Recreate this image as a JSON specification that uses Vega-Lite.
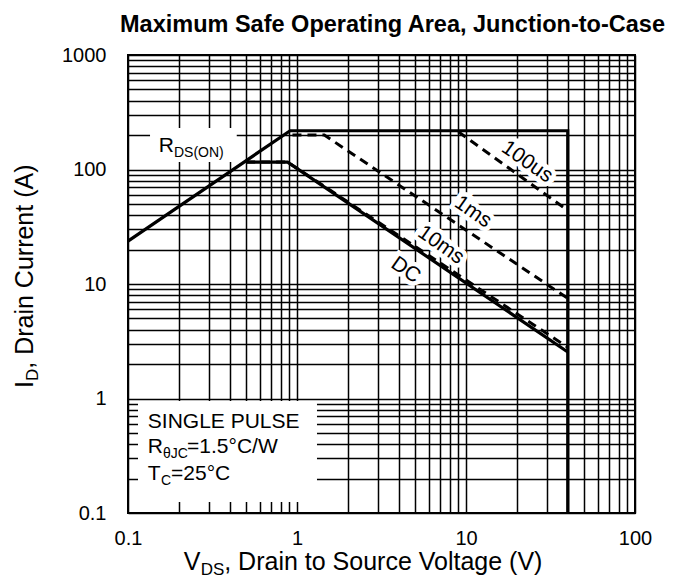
{
  "$schema": "https://vega.github.io/schema/vega-lite/v6.json",
  "width": 507,
  "height": 458,
  "autosize": "none",
  "padding": {"left": 128, "top": 55, "right": 40, "bottom": 71},
  "background": "white",
  "title": {
    "text": "Maximum Safe Operating Area, Junction-to-Case",
    "font": "Liberation Sans",
    "fontSize": 23.5,
    "fontWeight": "bold",
    "color": "black",
    "anchor": "middle",
    "dx": 11,
    "offset": 9
  },
  "config": {
    "view": {"stroke": "black", "strokeWidth": 2},
    "axis": {
      "labelFont": "Liberation Sans",
      "labelFontSize": 20,
      "labelColor": "black",
      "ticks": false,
      "tickSize": 0,
      "domain": false,
      "grid": true,
      "gridColor": "black",
      "gridOpacity": 1,
      "gridWidth": 1.5,
      "labelOverlap": false,
      "labelFlush": false,
      "title": null
    }
  },
  "datasets": {
    "curves": [
      {"series": "limit", "k": 1, "v": 0.1, "i": 23.7},
      {"series": "limit", "k": 2, "v": 0.91, "i": 218},
      {"series": "limit", "k": 3, "v": 40, "i": 218},
      {"series": "limit", "k": 4, "v": 40, "i": 0.1},
      {"series": "DC", "k": 1, "v": 0.5, "i": 116},
      {"series": "DC", "k": 2, "v": 0.88, "i": 116},
      {"series": "DC", "k": 3, "v": 40, "i": 2.55},
      {"series": "100us", "k": 1, "v": 9.0, "i": 214},
      {"series": "100us", "k": 2, "v": 40, "i": 44},
      {"series": "1ms", "k": 1, "v": 0.94, "i": 200},
      {"series": "1ms", "k": 2, "v": 1.45, "i": 200},
      {"series": "1ms", "k": 3, "v": 40, "i": 7.5},
      {"series": "10ms", "k": 1, "v": 0.5, "i": 116},
      {"series": "10ms", "k": 2, "v": 0.88, "i": 116},
      {"series": "10ms", "k": 3, "v": 40, "i": 2.8}
    ],
    "boxes": [
      {"v1": 0.135, "v2": 0.44, "i1": 230, "i2": 116},
      {"v1": 0.1146, "v2": 1.313, "i1": 0.951, "i2": 0.125}
    ],
    "curveLabels": [
      {"label": "100us", "v": 22.96, "i": 116.3},
      {"label": "1ms", "v": 11.0, "i": 42.5},
      {"label": "10ms", "v": 7.1, "i": 21.9},
      {"label": "DC", "v": 4.4, "i": 13.2}
    ],
    "noteMain": [
      {"text": "R", "v": 0.152, "i": 142},
      {"text": "SINGLE PULSE", "v": 0.131, "i": 0.552},
      {"text": "R", "v": 0.131, "i": 0.334},
      {"text": "=1.5°C/W", "v": 0.2235, "i": 0.334},
      {"text": "T", "v": 0.131, "i": 0.194},
      {"text": "=25°C", "v": 0.1797, "i": 0.194}
    ],
    "noteSub": [
      {"text": "DS(ON)", "v": 0.187, "i": 128.6},
      {"text": "θJC", "v": 0.161, "i": 0.302},
      {"text": "C", "v": 0.157, "i": 0.1756}
    ],
    "xTitleMain": [
      {"text": "V", "v": 0.214, "i": 0.0318},
      {"text": ", Drain to Source Voltage (V)", "v": 0.371, "i": 0.0318}
    ],
    "xTitleSub": [
      {"text": "DS", "v": 0.269, "i": 0.0287}
    ],
    "yTitleMain": [
      {"text": "I", "v": 0.0274, "i": 1.235},
      {"text": ", Drain Current (A)", "v": 0.0274, "i": 1.82}
    ],
    "yTitleSub": [
      {"text": "D", "v": 0.0293, "i": 1.42}
    ]
  },
  "encoding": {
    "x": {
      "field": "v",
      "type": "quantitative",
      "scale": {"type": "log", "domain": [0.1, 100], "nice": false},
      "axis": {
        "values": [0.1,0.2,0.3,0.4,0.5,0.6,0.7,0.8,0.9,1,2,3,4,5,6,7,8,9,10,20,30,40,50,60,70,80,90,100],
        "labelExpr": "indexof([0.1,1,10,100], datum.value) >= 0 ? format(datum.value, '~g') : ''",
        "labelPadding": 15
      }
    },
    "y": {
      "field": "i",
      "type": "quantitative",
      "scale": {"type": "log", "domain": [0.1, 1000], "nice": false},
      "axis": {
        "values": [0.1,0.2,0.3,0.4,0.5,0.6,0.7,0.8,0.9,1,2,3,4,5,6,7,8,9,10,20,30,40,50,60,70,80,90,100,200,300,400,500,600,700,800,900,1000],
        "labelExpr": "indexof([0.1,1,10,100,1000], datum.value) >= 0 ? format(datum.value, '~g') : ''",
        "labelPadding": 22
      }
    }
  },
  "layer": [
    {
      "data": {"name": "boxes"},
      "mark": {"type": "rect", "fill": "white", "strokeWidth": 0},
      "encoding": {
        "x": {"field": "v1", "type": "quantitative"},
        "x2": {"field": "v2"},
        "y": {"field": "i1", "type": "quantitative"},
        "y2": {"field": "i2"}
      }
    },
    {
      "data": {"name": "curveLabels"},
      "mark": {"type": "text", "font": "Liberation Sans", "fontSize": 21, "angle": 35, "align": "center", "baseline": "middle", "fill": "white", "stroke": "white", "strokeWidth": 9, "strokeJoin": "miter"},
      "encoding": {"text": {"field": "label"}}
    },
    {
      "data": {"name": "curves"},
      "transform": [{"filter": "datum.series == 'limit' || datum.series == 'DC'"}],
      "mark": {"type": "line", "color": "black", "strokeWidth": 3.2},
      "encoding": {
        "detail": {"field": "series"},
        "order": {"field": "k", "type": "quantitative"}
      }
    },
    {
      "data": {"name": "curves"},
      "transform": [{"filter": "datum.series != 'limit' && datum.series != 'DC'"}],
      "mark": {"type": "line", "color": "black", "strokeWidth": 3, "strokeDash": [9, 6]},
      "encoding": {
        "detail": {"field": "series"},
        "order": {"field": "k", "type": "quantitative"}
      }
    },
    {
      "data": {"name": "curveLabels"},
      "mark": {"type": "text", "font": "Liberation Sans", "fontSize": 21, "angle": 35, "align": "center", "baseline": "middle", "color": "black"},
      "encoding": {"text": {"field": "label"}}
    },
    {
      "data": {"name": "noteMain"},
      "mark": {"type": "text", "font": "Liberation Sans", "fontSize": 21, "align": "left", "baseline": "alphabetic", "color": "black"},
      "encoding": {"text": {"field": "text"}}
    },
    {
      "data": {"name": "noteSub"},
      "mark": {"type": "text", "font": "Liberation Sans", "fontSize": 14, "align": "left", "baseline": "alphabetic", "color": "black"},
      "encoding": {"text": {"field": "text"}}
    },
    {
      "data": {"name": "xTitleMain"},
      "mark": {"type": "text", "font": "Liberation Sans", "fontSize": 25, "align": "left", "baseline": "alphabetic", "color": "black"},
      "encoding": {"text": {"field": "text"}}
    },
    {
      "data": {"name": "xTitleSub"},
      "mark": {"type": "text", "font": "Liberation Sans", "fontSize": 17, "align": "left", "baseline": "alphabetic", "color": "black"},
      "encoding": {"text": {"field": "text"}}
    },
    {
      "data": {"name": "yTitleMain"},
      "mark": {"type": "text", "font": "Liberation Sans", "fontSize": 25, "angle": 270, "align": "left", "baseline": "alphabetic", "color": "black"},
      "encoding": {"text": {"field": "text"}}
    },
    {
      "data": {"name": "yTitleSub"},
      "mark": {"type": "text", "font": "Liberation Sans", "fontSize": 17, "angle": 270, "align": "left", "baseline": "alphabetic", "color": "black"},
      "encoding": {"text": {"field": "text"}}
    }
  ]
}
